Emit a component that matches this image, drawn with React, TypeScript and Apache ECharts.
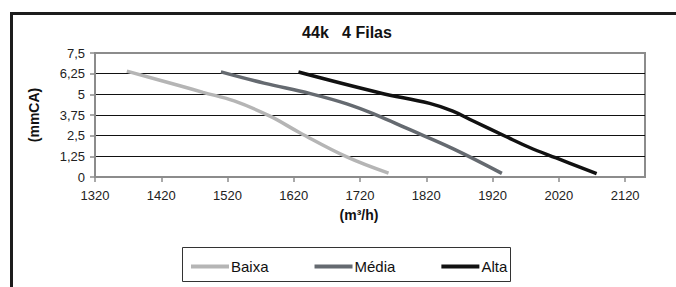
import React, { useEffect, useRef } from "react";
import * as echarts from "echarts";

const seriesNames = ["Baixa", "Média", "Alta"];
const seriesColors = ["#b5b5b5", "#656a70", "#111111"];

const baixa: [number, number][] = [
  [1368, 6.4], [1448, 5.52], [1483, 5.12], [1530, 4.6], [1584, 3.68],
  [1629, 2.68], [1700, 1.22], [1763, 0.24],
];
const media: [number, number][] = [
  [1510, 6.36], [1575, 5.68], [1645, 5.04], [1700, 4.42], [1745, 3.74],
  [1790, 2.95], [1860, 1.72], [1934, 0.22],
];
const alta: [number, number][] = [
  [1627, 6.35], [1749, 5.1], [1825, 4.45], [1860, 3.98], [1890, 3.4],
  [1940, 2.45], [1975, 1.8], [2016, 1.15], [2077, 0.2],
];

const xTicks = [1320, 1420, 1520, 1620, 1720, 1820, 1920, 2020, 2120];
const yTicks = [0, 1.25, 2.5, 3.75, 5, 6.25, 7.5];

const titleText = "44k   4 Filas";
const yTitle = "(mmCA)";
const xTitle = "(m³/h)";

export default function App() {
  const ref = useRef<HTMLDivElement>(null);
  useEffect(() => {
    if (!ref.current) return;
    const chart = echarts.init(ref.current, null, { renderer: "svg" });
    const font = "Liberation Sans";
    const gray = "#8c8c8c";
    const data = [baixa, media, alta];
    chart.setOption({
      animation: false,
      backgroundColor: "#ffffff",
      grid: {
        left: 95,
        top: 53,
        right: 31,
        bottom: 110,
        show: true,
        borderColor: gray,
        borderWidth: 2,
      },
      xAxis: {
        type: "value",
        min: 1320,
        max: 2150,
        interval: 100,
        axisLine: { show: true, lineStyle: { color: gray, width: 2 } },
        axisTick: {
          show: true,
          length: 5,
          customValues: xTicks,
          lineStyle: { color: gray, width: 1.5 },
        },
        axisLabel: {
          customValues: xTicks,
          margin: 12,
          color: "#222",
          fontSize: 13,
          fontFamily: font,
          formatter: (v: number) => String(v),
        },
        splitLine: { show: false },
      },
      yAxis: {
        type: "value",
        min: 0,
        max: 7.5,
        interval: 1.25,
        axisLine: { show: true, lineStyle: { color: gray, width: 2 } },
        axisTick: {
          show: true,
          length: 5,
          customValues: yTicks,
          lineStyle: { color: gray, width: 1.5 },
        },
        axisLabel: {
          customValues: yTicks,
          margin: 10,
          color: "#222",
          fontSize: 13,
          fontFamily: font,
          formatter: (v: number) => String(v).replace(".", ","),
        },
        splitLine: {
          show: true,
          showMinLine: false,
          showMaxLine: false,
          lineStyle: { color: "#111", width: 1 },
        },
      },
      legend: {
        left: 186,
        top: 254,
        itemGap: 46,
        itemWidth: 38,
        itemHeight: 4,
        icon: "rect",
        textStyle: { color: "#111", fontSize: 15, fontFamily: font, padding: [0, 0, 2, -3] },
        data: seriesNames,
      },
      graphic: [
        {
          type: "polyline",
          shape: { points: [[11.5, 290], [11.5, 13.5], [680, 13.5]] },
          style: { stroke: "#1c1c1c", lineWidth: 3, fill: "none" },
          silent: true,
        },
        {
          type: "rect",
          shape: { x: 182.5, y: 247.5, width: 328, height: 34 },
          style: { stroke: "#333", lineWidth: 1, fill: "none" },
          silent: true,
        },
        {
          type: "text",
          x: 347,
          y: 32,
          style: {
            text: titleText,
            fontFamily: font,
            fontWeight: "bold",
            fontSize: 16,
            fill: "#111",
            align: "center",
            verticalAlign: "middle",
          },
        },
        {
          type: "text",
          x: 359,
          y: 215,
          style: {
            text: xTitle,
            fontFamily: font,
            fontWeight: "bold",
            fontSize: 14,
            fill: "#111",
            align: "center",
            verticalAlign: "middle",
          },
        },
        {
          type: "text",
          x: 34,
          y: 115,
          rotation: Math.PI / 2,
          style: {
            text: yTitle,
            fontFamily: font,
            fontWeight: "bold",
            fontSize: 14,
            fill: "#111",
            align: "center",
            verticalAlign: "middle",
          },
        },
      ],
      series: seriesNames.map((name, i) => ({
        name,
        type: "line",
        data: data[i],
        smooth: 0.4,
        showSymbol: false,
        symbol: "none",
        color: seriesColors[i],
        lineStyle: { color: seriesColors[i], width: 3.5 },
      })),
    });
    return () => chart.dispose();
  }, []);
  return (
    <div
      ref={ref}
      style={{ position: "fixed", left: 0, top: 0, width: 676, height: 287 }}
    />
  );
}
